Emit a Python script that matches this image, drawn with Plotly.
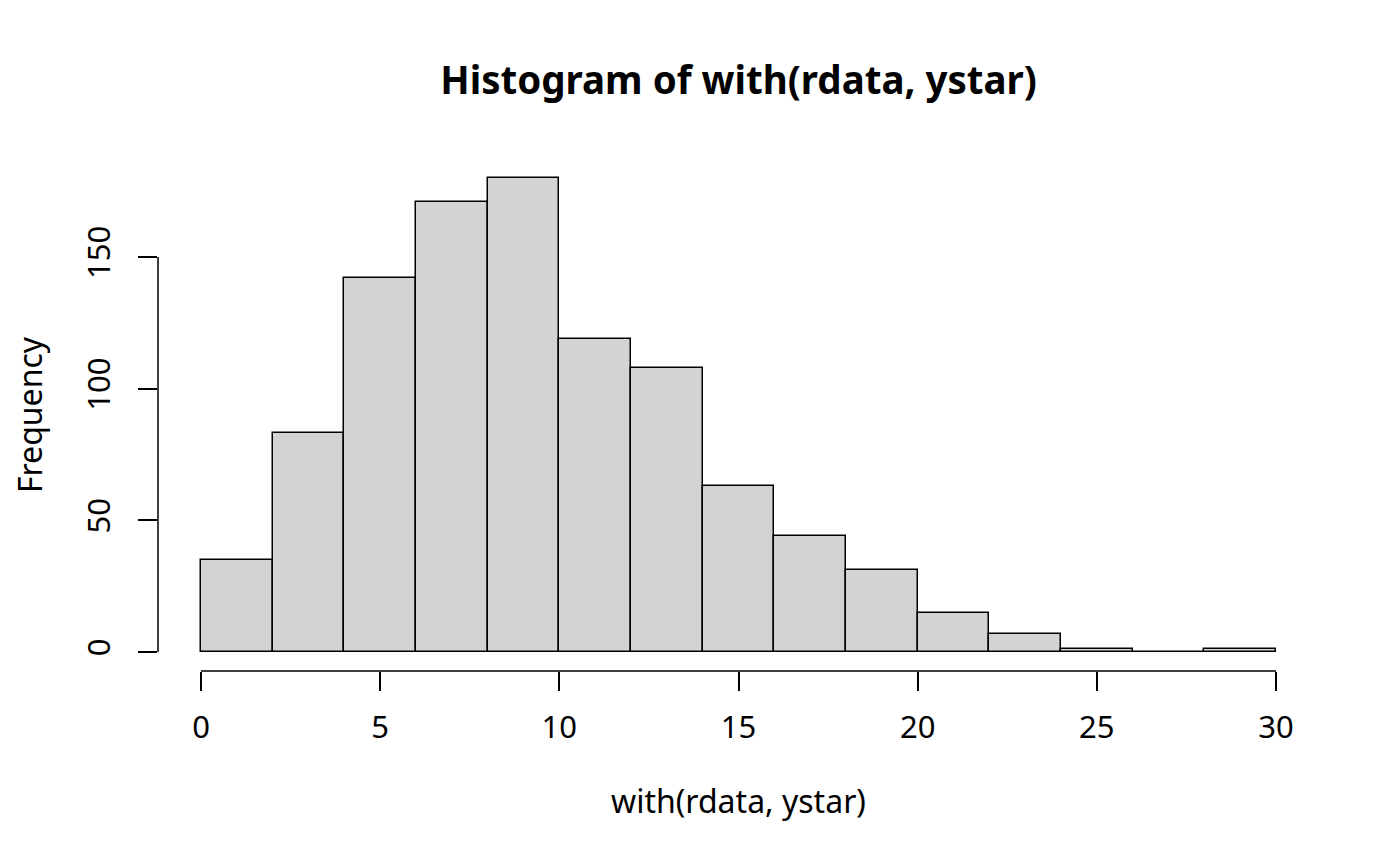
import plotly.graph_objects as go

# histogram bins (width 2) and counts
breaks = [0, 2, 4, 6, 8, 10, 12, 14, 16, 18, 20, 22, 24, 26, 28, 30]
counts = [35, 83, 142, 171, 180, 119, 108, 63, 44, 31, 15, 7, 1, 0, 1]
x_ticks = [0, 5, 10, 15, 20, 25, 30]
y_ticks = [0, 50, 100, 150]

mids = [(a + b) / 2 for a, b in zip(breaks[:-1], breaks[1:])]
widths = [b - a for a, b in zip(breaks[:-1], breaks[1:])]

fig = go.Figure(go.Bar(
    x=mids, y=counts, width=widths,
    marker=dict(color="#D3D3D3", line=dict(color="black", width=1.5)),
))

font = "Noto Sans"

# R-style axis lines that only span the tick range
fig.add_shape(type="line", xref="x", yref="paper",
              x0=x_ticks[0], x1=x_ticks[-1], y0=0, y1=0,
              line=dict(color="black", width=1.5))
fig.add_shape(type="line", xref="paper", yref="y",
              x0=0, x1=0, y0=y_ticks[0], y1=y_ticks[-1],
              line=dict(color="black", width=1.5))

fig.update_layout(
    width=1400, height=866,
    margin=dict(l=150, r=89, t=151, b=203),
    paper_bgcolor="white", plot_bgcolor="white",
    font=dict(family=font, size=31, color="black"),
    showlegend=False,
    bargap=0,
    title=dict(text="<b>Histogram of with(rdata, ystar)</b>",
               x=0.5, xref="paper", xanchor="center",
               y=1 - 73 / 866, yref="container", yanchor="middle",
               font=dict(family=font, size=38.5)),
)

fig.update_xaxes(
    range=[-1.2, 31.2], tickvals=x_ticks, ticks="outside", ticklen=19,
    tickwidth=1.5, tickcolor="black", showgrid=False, zeroline=False,
    showline=False, ticklabelstandoff=10, automargin=False,
    tickfont=dict(family=font, size=31),
    title=dict(text="with(rdata, ystar)", standoff=44,
               font=dict(family=font, size=32)),
)
fig.update_yaxes(
    range=[-7.2, 187.2], tickvals=y_ticks, ticks="outside", ticklen=19,
    tickwidth=1.5, tickcolor="black", showgrid=False, zeroline=False,
    showline=False, tickangle=-90, ticklabelstandoff=16, automargin=False,
    tickfont=dict(family=font, size=31),
    title=dict(text="Frequency", standoff=60,
               font=dict(family=font, size=32)),
)

fig.write_html("out.html")
